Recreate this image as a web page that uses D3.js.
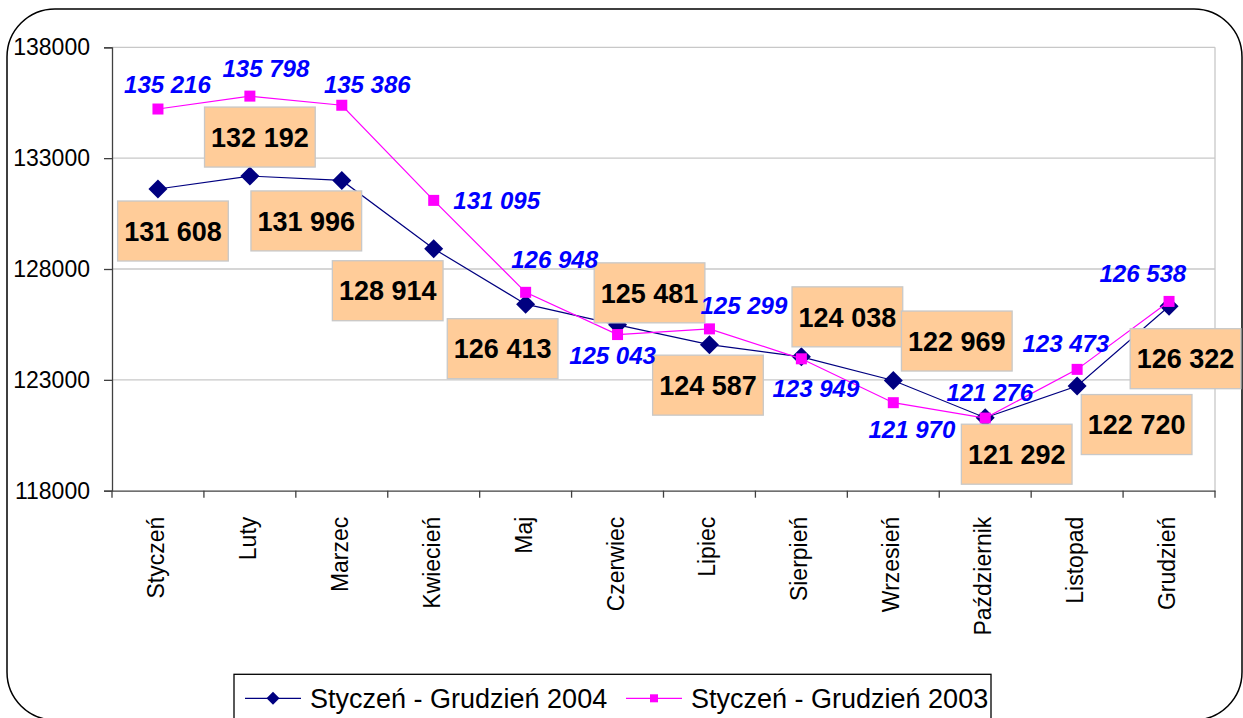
<!DOCTYPE html>
<html>
<head>
<meta charset="utf-8">
<script src="https://cdn.jsdelivr.net/npm/d3@7"></script>
<style>
  html, body { margin: 0; padding: 0; background: #fff; }
  svg { display: block; font-family: "Liberation Sans", Arial, sans-serif; }
</style>
</head>
<body>
<svg id="chart" width="1243" height="718"></svg>
<script>
// ── Data ──
const months = ["Styczeń", "Luty", "Marzec", "Kwiecień", "Maj", "Czerwiec",
  "Lipiec", "Sierpień", "Wrzesień", "Październik", "Listopad", "Grudzień"];
const values2004 = [131608, 132192, 131996, 128914, 126413, 125481,
  124587, 124038, 122969, 121292, 122720, 126322];
const values2003 = [135216, 135798, 135386, 131095, 126948, 125043,
  125299, 123949, 121970, 121276, 123473, 126538];
const yTicks = [118000, 123000, 128000, 133000, 138000];
const seriesNames = ["Styczeń - Grudzień 2004", "Styczeń - Grudzień 2003"];

// ── Label placement (hand-placed in the original, offsets from the point) ──
const boxShift2004 = [[15, 42], [10, -39], [-35.5, 40.5], [-46, 42], [-23, 44.5], [32, -32],
  [-1.5, 40.5], [46, -40], [63.5, -39.5], [31.5, 36.5], [59.5, 38.5], [16.5, 52.5]];
const textShift2003 = [[9.5, -16.3], [16, -19.4], [25.5, -12.5], [63, 8.6], [29, -24.3], [-5, 29.8],
  [34.4, -14.6], [14.5, 37.9], [18.6, 35.6], [4.6, -17.3], [-11.3, -17.6], [-26.2, -19.1]];

// ── Layout ──
const W = 1243, H = 718;
const plot = { left: 112, right: 1215, top: 47.3, bottom: 490.7 };

const svg = d3.select("#chart");

const fmt = d3.formatLocale({ decimal: ",", thousands: " ", grouping: [3], currency: ["", ""] })
  .format(",d");

// Frame
svg.append("rect")
  .attr("x", 7).attr("y", 9)
  .attr("width", 1235).attr("height", 711)
  .attr("rx", 48).attr("ry", 48)
  .attr("fill", "#fff")
  .attr("stroke", "#000")
  .attr("stroke-width", 1.5);

const x = d3.scaleBand().domain(months).range([plot.left, plot.right]);
const y = d3.scaleLinear().domain([118000, 138000]).range([plot.bottom, plot.top]);
const cx = m => x(m) + x.bandwidth() / 2;

// Gridlines + plot border
svg.append("g")
  .selectAll("line")
  .data(yTicks.filter(t => t > 118000))
  .join("line")
  .attr("x1", plot.left).attr("x2", plot.right)
  .attr("y1", d => y(d)).attr("y2", d => y(d))
  .attr("stroke", "#c8c8c8").attr("stroke-width", 1.3);

svg.append("line")
  .attr("x1", plot.right).attr("x2", plot.right)
  .attr("y1", plot.top).attr("y2", plot.bottom)
  .attr("stroke", "#c8c8c8").attr("stroke-width", 1.3);

// Y axis
const yAxis = svg.append("g")
  .attr("transform", `translate(${plot.left},0)`)
  .call(d3.axisLeft(y).tickValues(yTicks).tickFormat(d3.format("d"))
    .tickSize(8).tickPadding(14));
yAxis.select(".domain").attr("stroke", "#404040").attr("stroke-width", 1.3);
yAxis.selectAll(".tick line").attr("stroke", "#404040").attr("stroke-width", 1.3);
yAxis.selectAll("text")
  .attr("font-size", 23)
  .attr("font-family", "Liberation Sans, Arial, sans-serif")
  .attr("fill", "#000");

// X axis
const xAxis = svg.append("g")
  .attr("transform", `translate(0,${plot.bottom})`)
  .call(d3.axisBottom(x).tickSize(0).tickPadding(0));
xAxis.select(".domain").attr("stroke", "#404040").attr("stroke-width", 1.3);
xAxis.selectAll(".tick text")
  .attr("font-size", 23)
  .attr("font-family", "Liberation Sans, Arial, sans-serif")
  .attr("fill", "#000")
  .attr("text-anchor", "end")
  .attr("transform", "translate(6,26) rotate(-90)")
  .attr("x", 0).attr("y", 0).attr("dy", 0);

xAxis.selectAll(".bound")
  .data(months.map(m => x(m)).concat([plot.right]))
  .join("line")
  .attr("class", "bound")
  .attr("x1", d => d).attr("x2", d => d)
  .attr("y1", 0).attr("y2", 7)
  .attr("stroke", "#404040").attr("stroke-width", 1.3);

// Lines
const line = d3.line().x((d, i) => cx(months[i])).y(d => y(d));

svg.append("path")
  .datum(values2004)
  .attr("d", line)
  .attr("fill", "none")
  .attr("stroke", "#000080")
  .attr("stroke-width", 1.2);

svg.append("g")
  .selectAll("path")
  .data(values2004)
  .join("path")
  .attr("transform", (d, i) => `translate(${cx(months[i])},${y(d)})`)
  .attr("d", "M0,-9.5L9.5,0L0,9.5L-9.5,0Z")
  .attr("fill", "#000080");

svg.append("path")
  .datum(values2003)
  .attr("d", line)
  .attr("fill", "none")
  .attr("stroke", "#ff00ff")
  .attr("stroke-width", 1.2);

svg.append("g")
  .selectAll("rect")
  .data(values2003)
  .join("rect")
  .attr("x", (d, i) => cx(months[i]) - 5.5)
  .attr("y", d => y(d) - 5.5)
  .attr("width", 11).attr("height", 11)
  .attr("fill", "#ff00ff");

// 2004 labels: peach boxes
const boxW = 110.7, boxH = 60;
const lab04 = svg.append("g")
  .selectAll("g")
  .data(values2004)
  .join("g")
  .attr("transform", (d, i) =>
    `translate(${cx(months[i]) + boxShift2004[i][0]},${y(d) + boxShift2004[i][1]})`);

lab04.append("rect")
  .attr("x", -boxW / 2).attr("y", -boxH / 2)
  .attr("width", boxW).attr("height", boxH)
  .attr("fill", "#ffcc99")
  .attr("stroke", "#c8c8c8")
  .attr("stroke-width", 1.3);

lab04.append("text")
  .attr("text-anchor", "middle")
  .attr("y", 9.7)
  .attr("font-size", 27)
  .attr("font-weight", "bold")
  .attr("fill", "#000")
  .text(d => fmt(d));

// 2003 labels: blue italic
svg.append("g")
  .selectAll("text")
  .data(values2003)
  .join("text")
  .attr("x", (d, i) => cx(months[i]) + textShift2003[i][0])
  .attr("y", (d, i) => y(d) + textShift2003[i][1])
  .attr("text-anchor", "middle")
  .attr("font-size", 24)
  .attr("font-weight", "bold")
  .attr("font-style", "italic")
  .attr("fill", "#0000ff")
  .text(d => fmt(d));

// Legend
const legend = svg.append("g");
legend.append("rect")
  .attr("x", 234).attr("y", 674.3)
  .attr("width", 757).attr("height", 60)
  .attr("fill", "#fff")
  .attr("stroke", "#000")
  .attr("stroke-width", 1.3);

const legItems = [
  { name: seriesNames[0], color: "#000080", marker: "diamond", x0: 245 },
  { name: seriesNames[1], color: "#ff00ff", marker: "square", x0: 626 }
];
const legY = 698.3;
legItems.forEach(it => {
  legend.append("line")
    .attr("x1", it.x0).attr("x2", it.x0 + 56)
    .attr("y1", legY).attr("y2", legY)
    .attr("stroke", it.color).attr("stroke-width", 1.2);
  if (it.marker === "diamond") {
    legend.append("path")
      .attr("transform", `translate(${it.x0 + 28},${legY})`)
      .attr("d", "M0,-6.5L6.5,0L0,6.5L-6.5,0Z")
      .attr("fill", it.color);
  } else {
    legend.append("rect")
      .attr("x", it.x0 + 28 - 4).attr("y", legY - 4)
      .attr("width", 8).attr("height", 8)
      .attr("fill", it.color);
  }
  legend.append("text")
    .attr("x", it.x0 + 65)
    .attr("y", legY + 9.5)
    .attr("font-size", 27)
    .attr("fill", "#000")
    .text(it.name);
});
</script>
</body>
</html>
